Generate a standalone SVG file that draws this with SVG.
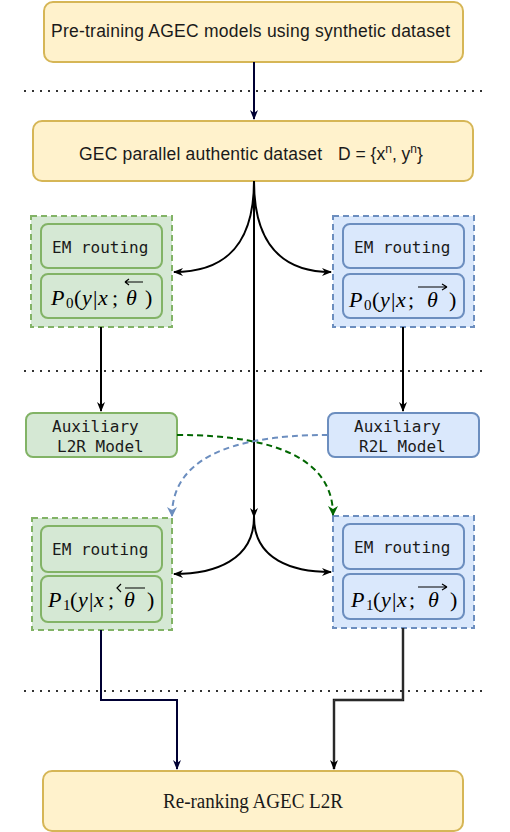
<svg xmlns="http://www.w3.org/2000/svg" width="510" height="832" viewBox="0 0 510 832">
<style>
.yel{fill:#fff2cc;stroke:#d6b656;stroke-width:2}
.gout{fill:#d5e8d4;stroke:#82b366;stroke-width:2;stroke-dasharray:6 4}
.bout{fill:#dae8fc;stroke:#6c8ebf;stroke-width:2;stroke-dasharray:6 4}
.gin{fill:#d5e8d4;stroke:#82b366;stroke-width:2}
.bin{fill:#dae8fc;stroke:#6c8ebf;stroke-width:2}
.sans{font-family:"Liberation Sans",Arial,sans-serif;font-size:17.5px;fill:#1a1a1a}
.mono{font-family:"DejaVu Sans Mono",monospace;font-size:16px;fill:#1a1a1a}
.math{font-family:"Liberation Serif","Times New Roman",serif;font-size:22px;fill:#000}
.it{font-style:italic}
.sub{font-size:15px}
.dot{stroke:#333;stroke-width:2;stroke-dasharray:2 6;fill:none}
.ln{fill:none;stroke:#000;stroke-width:2}
.acc{fill:none;stroke:#000;stroke-width:1.2}
</style>
<defs>
<marker id="ak" markerWidth="10" markerHeight="8" refX="9" refY="4" orient="auto" markerUnits="userSpaceOnUse">
<path d="M0,0 L10,4 L0,8 L3,4 Z" fill="#000"/>
</marker>
<marker id="an" markerWidth="10" markerHeight="8" refX="9" refY="4" orient="auto" markerUnits="userSpaceOnUse">
<path d="M0,0 L10,4 L0,8 L3,4 Z" fill="#000033"/>
</marker>
<marker id="ag" markerWidth="10" markerHeight="10" refX="9" refY="5" orient="auto" markerUnits="userSpaceOnUse">
<path d="M0,0 L10,5 L0,10 L3,5 Z" fill="#006600"/>
</marker>
<marker id="ab" markerWidth="10" markerHeight="10" refX="9" refY="5" orient="auto" markerUnits="userSpaceOnUse">
<path d="M0,0 L10,5 L0,10 L3,5 Z" fill="#6c8ebf"/>
</marker>
</defs>
<rect width="510" height="832" fill="#fff"/>

<g id="separators">
<line class="dot" x1="24" y1="91" x2="483" y2="91"/>
<line class="dot" x1="24" y1="371" x2="483" y2="371"/>
<line class="dot" x1="24" y1="691" x2="483" y2="691"/>
</g>

<g id="pretrain">
<rect class="yel" x="44" y="2" width="419" height="60" rx="9"/>
<text class="sans" x="51" y="37" textLength="399" lengthAdjust="spacing">Pre-training AGEC models using synthetic dataset</text>
</g>

<g id="dataset">
<rect class="yel" x="33" y="121" width="440" height="60" rx="9"/>
<text class="sans" x="79" y="160" textLength="243" lengthAdjust="spacing">GEC parallel authentic dataset</text>
<text class="sans" x="338" y="160">D = {x<tspan dy="-7" font-size="12">n</tspan><tspan dy="7">, y</tspan><tspan dy="-7" font-size="12">n</tspan><tspan dy="7">}</tspan></text>
</g>

<g id="em0-l2r">
<rect class="gout" x="31" y="216" width="141" height="111"/>
<rect class="gin" x="41" y="224" width="121" height="44" rx="7"/>
<text class="mono" x="52" y="253">EM routing</text>
<rect class="gin" x="41" y="274" width="121" height="44" rx="7"/>
<text class="math" y="305"><tspan class="it" x="51">P</tspan><tspan class="sub" x="66" dy="3">0</tspan><tspan x="74" dy="-3">(</tspan><tspan class="it" x="82">y</tspan><tspan x="93">|</tspan><tspan class="it" x="98">x</tspan><tspan x="112">;</tspan><tspan class="it" x="126">θ</tspan><tspan x="145">)</tspan></text>
<path class="acc" d="M125,282 L143,282 M125,282 l4,-3 M125,282 l4,3"/>
</g>

<g id="em0-r2l">
<rect class="bout" x="333" y="216" width="141" height="111"/>
<rect class="bin" x="343" y="224" width="121" height="44" rx="7"/>
<text class="mono" x="354" y="253">EM routing</text>
<rect class="bin" x="343" y="274" width="121" height="44" rx="7"/>
<text class="math" y="307"><tspan class="it" x="349">P</tspan><tspan class="sub" x="364" dy="3">0</tspan><tspan x="372" dy="-3">(</tspan><tspan class="it" x="380">y</tspan><tspan x="391">|</tspan><tspan class="it" x="396">x</tspan><tspan x="408">;</tspan><tspan class="it" x="427">θ</tspan><tspan x="449">)</tspan></text>
<path class="acc" d="M418,287 L447,287 M447,287 l-5,-3 M447,287 l-5,3"/>
</g>

<g id="aux-l2r">
<rect class="gin" x="26" y="413" width="151" height="44" rx="7"/>
<text class="mono" x="52" y="432">Auxiliary</text>
<text class="mono" x="57" y="452">L2R Model</text>
</g>

<g id="aux-r2l">
<rect class="bin" x="328" y="413" width="151" height="44" rx="7"/>
<text class="mono" x="354" y="432">Auxiliary</text>
<text class="mono" x="359" y="452">R2L Model</text>
</g>

<g id="em1-l2r">
<rect class="gout" x="32" y="518" width="140" height="112"/>
<rect class="gin" x="41" y="526" width="121" height="46" rx="7"/>
<text class="mono" x="52" y="555">EM routing</text>
<rect class="gin" x="41" y="576" width="121" height="46" rx="7"/>
<text class="math" y="607"><tspan class="it" x="48">P</tspan><tspan class="sub" x="63" dy="3">1</tspan><tspan x="70" dy="-3">(</tspan><tspan class="it" x="78">y</tspan><tspan x="89">|</tspan><tspan class="it" x="94">x</tspan><tspan x="108">;</tspan><tspan class="it" x="124">θ</tspan><tspan x="147">)</tspan></text>
<path class="acc" d="M121,584 l-4,4 l4,4 M125,588 L145,588"/>
</g>

<g id="em1-r2l">
<rect class="bout" x="333" y="516" width="141" height="112"/>
<rect class="bin" x="343" y="524" width="121" height="45" rx="7"/>
<text class="mono" x="354" y="553">EM routing</text>
<rect class="bin" x="343" y="574" width="121" height="45" rx="7"/>
<text class="math" y="607"><tspan class="it" x="351">P</tspan><tspan class="sub" x="366" dy="3">1</tspan><tspan x="373" dy="-3">(</tspan><tspan class="it" x="381">y</tspan><tspan x="392">|</tspan><tspan class="it" x="397">x</tspan><tspan x="409">;</tspan><tspan class="it" x="428">θ</tspan><tspan x="450">)</tspan></text>
<path class="acc" d="M418,587 L447,587 M447,587 l-5,-3 M447,587 l-5,3"/>
</g>

<g id="rerank">
<rect class="yel" x="43" y="771" width="420" height="60" rx="9"/>
<text x="163" y="808" textLength="180" lengthAdjust="spacingAndGlyphs" font-family="Liberation Serif,'Times New Roman',serif" font-size="20" fill="#1a1a1a">Re-ranking AGEC L2R</text>
</g>

<g id="connectors">
<line x1="254" y1="62" x2="254" y2="119" stroke="#000033" stroke-width="2" marker-end="url(#an)"/>
<line class="ln" x1="254" y1="181" x2="254" y2="517" marker-end="url(#ak)"/>
<path class="ln" d="M254,181 C254,255 215,272 174,272" marker-end="url(#ak)"/>
<path class="ln" d="M254,181 C254,255 293,272 331,272" marker-end="url(#ak)"/>
<line class="ln" x1="101" y1="327" x2="101" y2="411" marker-end="url(#ak)"/>
<line class="ln" x1="403" y1="327" x2="403" y2="411" marker-end="url(#ak)"/>
<path d="M177,435 Q333,435 333,515" fill="none" stroke="#006600" stroke-width="2" stroke-dasharray="6 4" marker-end="url(#ag)"/>
<path d="M328,435 Q172,435 172,516" fill="none" stroke="#6c8ebf" stroke-width="2" stroke-dasharray="6 4" marker-end="url(#ab)"/>
<path class="ln" d="M254,517 C254,560 215,574 174,574" marker-end="url(#ak)"/>
<path class="ln" d="M254,517 C254,560 293,572 331,572" marker-end="url(#ak)"/>
<path d="M101,630 L101,700 L177,700 L177,769" fill="none" stroke="#000033" stroke-width="2" marker-end="url(#an)"/>
<path d="M403,628 L403,700 L334,700 L334,769" fill="none" stroke="#111" stroke-width="2.4" marker-end="url(#ak)"/>
<path d="M403,628 L403,700 L334,700 L334,762" fill="none" stroke="#666" stroke-width="0.6"/>
</g>
</svg>
